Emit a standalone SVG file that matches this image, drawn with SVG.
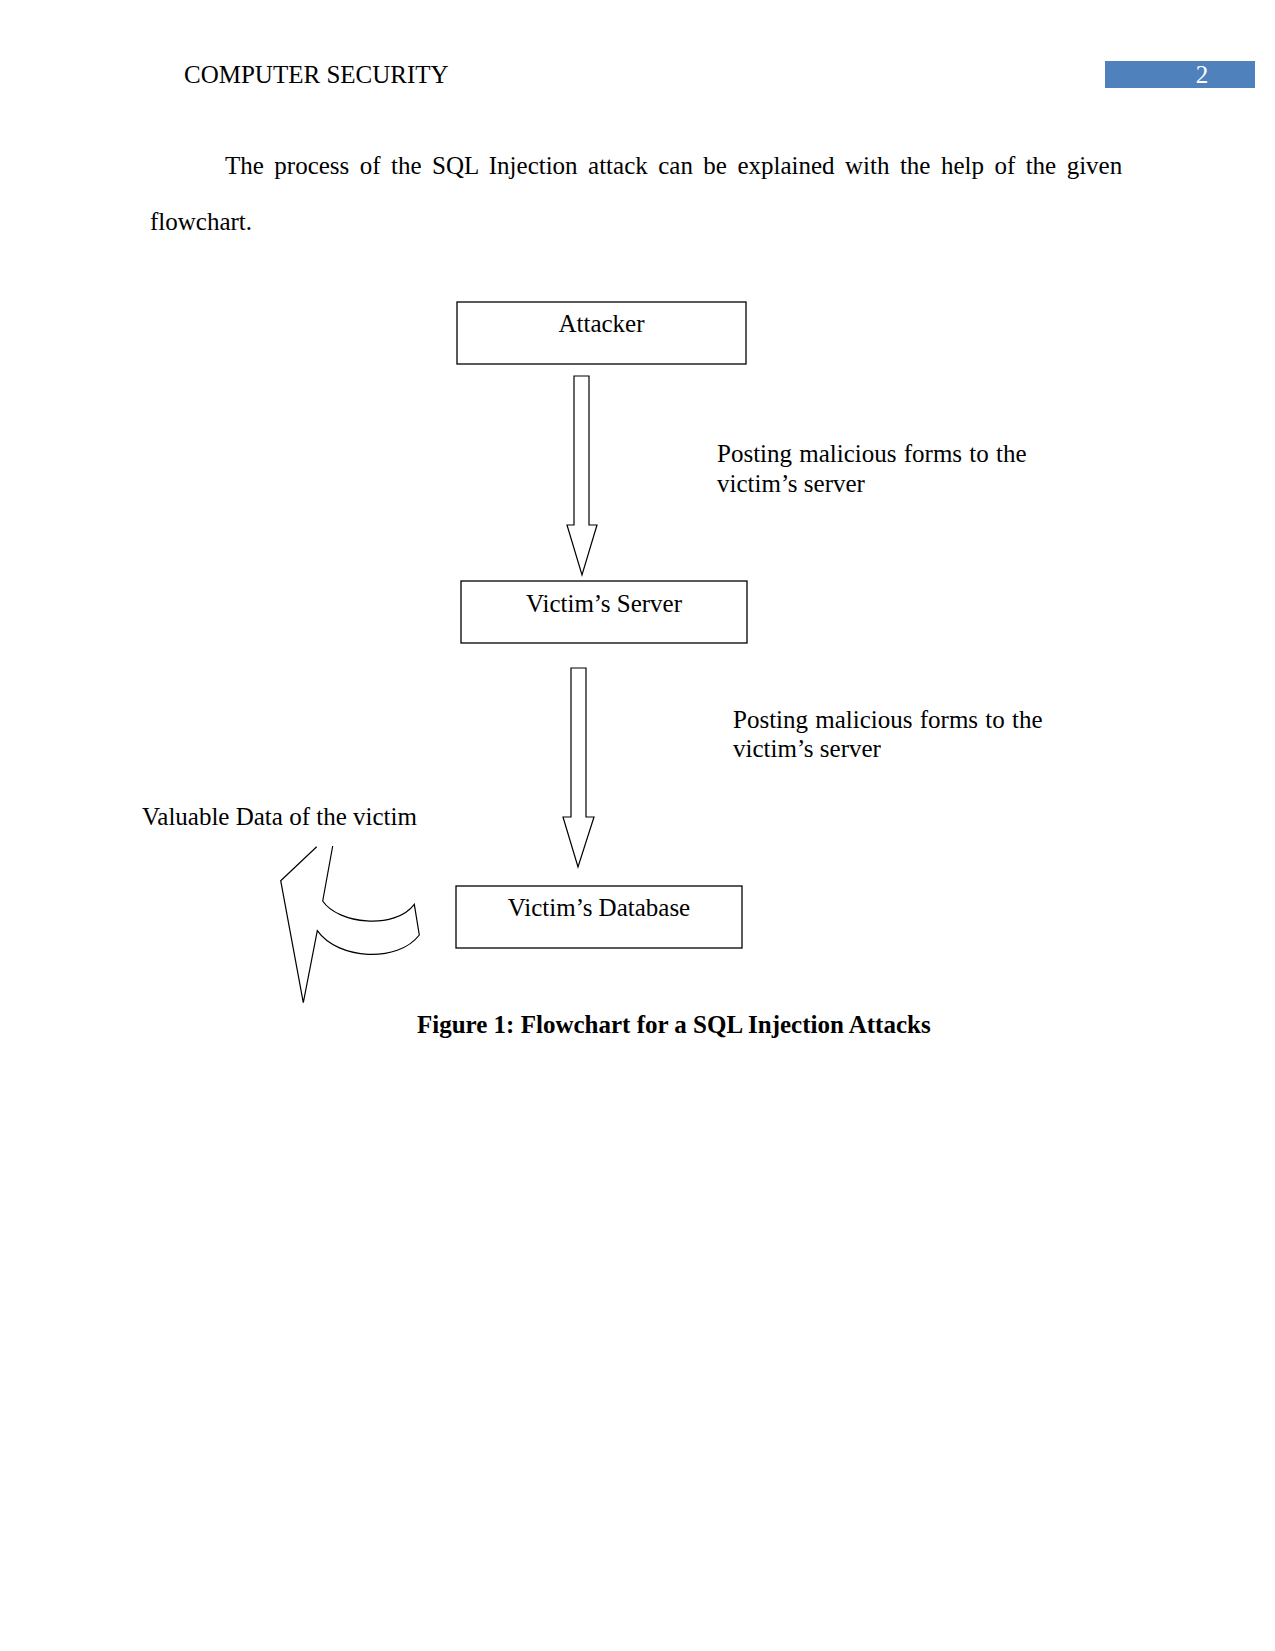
<svg xmlns="http://www.w3.org/2000/svg" width="1275" height="1651" viewBox="0 0 1275 1651">
<style>
  text { font-family: "Liberation Serif", "Times New Roman", serif; font-size: 25px; fill: #000; }
  .box { fill: #fff; stroke: #000; stroke-width: 1.3; }
  .arrow { fill: #fff; stroke: #000; stroke-width: 1.2; stroke-linejoin: miter; }
  .lbl { text-anchor: middle; }
  .cap { font-weight: bold; }
</style>
<rect width="1275" height="1651" fill="#fff"/>
<g id="header">
  <text x="184" y="83">COMPUTER SECURITY</text>
  <rect x="1105" y="61" width="150" height="27" fill="#4F81BD"/>
  <text x="1202" y="83" text-anchor="middle" style="fill:#fff">2</text>
</g>
<g id="paragraph">
  <text x="225" y="174" word-spacing="4.2">The process of the SQL Injection attack can be explained with the help of the given</text>
  <text x="150" y="230">flowchart.</text>
</g>
<g id="node-attacker">
  <rect class="box" x="457" y="302" width="289" height="62"/>
  <text class="lbl" x="601.5" y="332">Attacker</text>
</g>
<g id="node-server">
  <rect class="box" x="461" y="581" width="286" height="62"/>
  <text class="lbl" x="604" y="612">Victim’s Server</text>
</g>
<g id="node-database">
  <rect class="box" x="456" y="886" width="286" height="62"/>
  <text class="lbl" x="599" y="916">Victim’s Database</text>
</g>
<g id="connectors">
  <path class="arrow" d="M574 376 L589 376 L589 525 L597 525 L582 575 L567 525 L574 525 Z"/>
  <path class="arrow" d="M571 668 L586 668 L586 817 L594 817 L578 867 L563 817 L571 817 Z"/>
  <path class="arrow" d="M316.7 846.7 L280.7 880.7 L303.3 1002.7 L317.3 930.7 C338 960 398 963 419.3 935 L414.3 904.3 C395 930 338 924 322.7 901 L332.7 846"/>
</g>
<g id="labels">
  <text x="717" y="462" word-spacing="1">Posting malicious forms to the</text>
  <text x="717" y="492">victim’s server</text>
  <text x="733" y="728" word-spacing="1">Posting malicious forms to the</text>
  <text x="733" y="757">victim’s server</text>
  <text x="142" y="825">Valuable Data of the victim</text>
</g>
<g id="caption">
  <text class="cap" x="417" y="1033">Figure 1: Flowchart for a SQL Injection Attacks</text>
</g>
</svg>
